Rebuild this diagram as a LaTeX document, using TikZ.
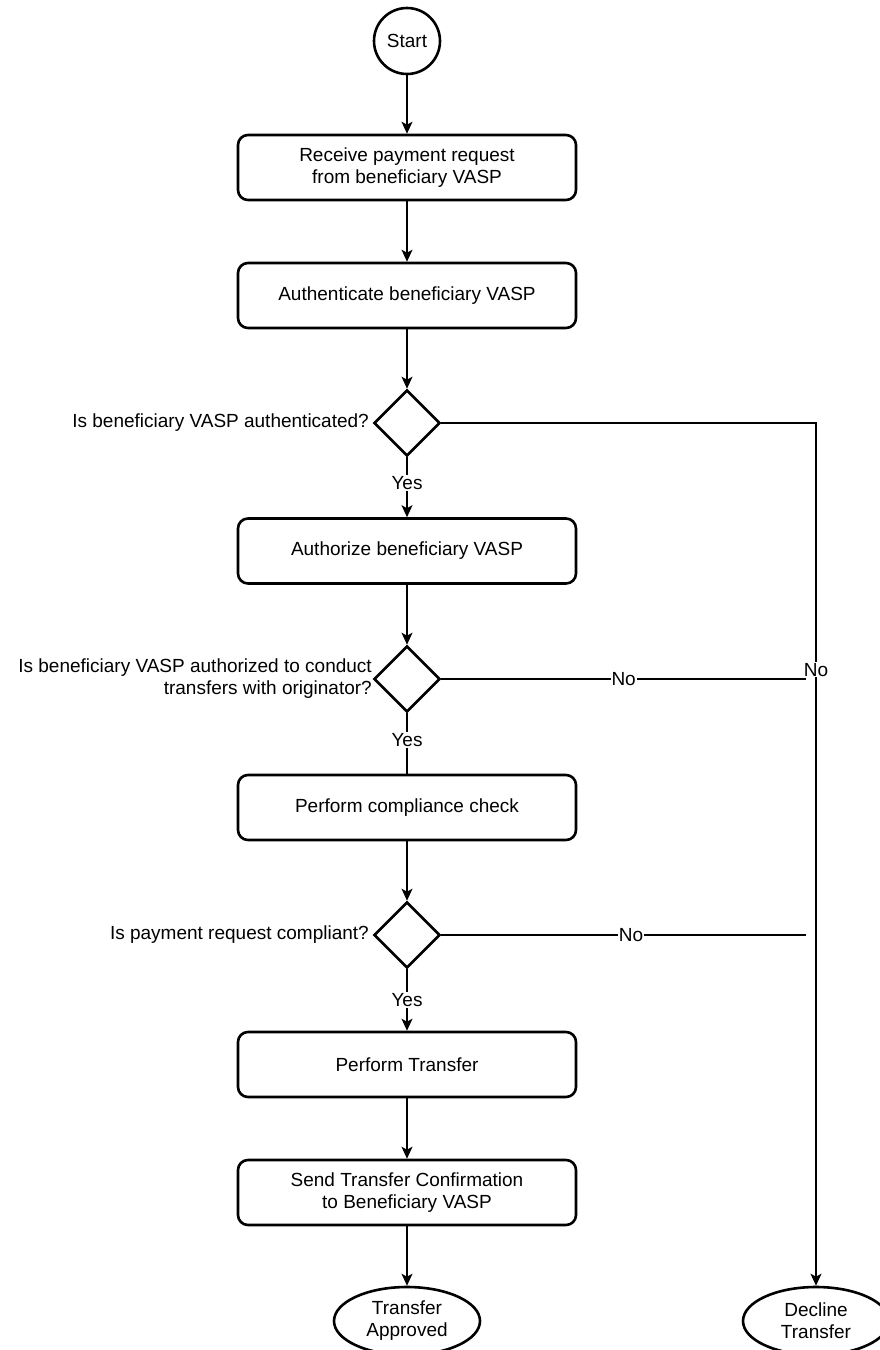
\documentclass[tikz,border=0pt]{standalone}
\usepackage{fontspec}
\setmainfont{Liberation Sans}
\usetikzlibrary{arrows.meta,shapes.geometric}
\tikzset{
	box/.style={draw, line width=2.6pt, rounded corners=10pt, minimum width=338pt, minimum height=65pt, align=center, inner sep=0pt},
	decision/.style={draw, diamond, line width=2.6pt, minimum width=66pt, minimum height=66pt, inner sep=0pt},
	terminal/.style={draw, ellipse, line width=2.6pt, minimum width=146pt, minimum height=68pt, align=center, inner sep=0pt},
	startnode/.style={draw, circle, line width=2.6pt, minimum size=66pt, inner sep=0pt},
	flow/.style={line width=1.3pt, -{Stealth[length=12pt,width=11pt,inset=3pt]}},
	link/.style={line width=1.3pt},
	question/.style={anchor=east, align=right, inner sep=0pt},
	answer/.style={fill=white, inner sep=1pt},
}

\begin{document}
\begin{tikzpicture}[x=1pt, y=-1pt, font=\fontsize{19}{22}\selectfont]
			%%%%% START %%%%%
			
			\useasboundingbox (0, 0) rectangle (879, 1350);
			
			\node[startnode] (start) at (407, 41) {Start};
			\node[box] (receive) at (407, 167.5) {Receive payment request\\from beneficiary VASP};
			\node[box] (authn) at (407, 295.5) {Authenticate beneficiary VASP};
			\node[decision] (isauthn) at (407, 423) {};
			\node[box] (authz) at (407, 551) {Authorize beneficiary VASP};
			\node[decision] (isauthz) at (407, 679) {};
			\node[box] (check) at (407, 807.5) {Perform compliance check};
			\node[decision] (iscompliant) at (407, 935) {};
			\node[box] (transfer) at (407, 1064.5) {Perform Transfer};
			\node[box] (confirm) at (407, 1192.5) {Send Transfer Confirmation\\to Beneficiary VASP};
			\node[terminal] (approved) at (407, 1321) {Transfer\\Approved};
			\node[terminal] (decline) at (816, 1321) {Decline\\Transfer};
			
			\node[question] (qauthn) at (369, 423) {Is beneficiary VASP authenticated?};
			\node[question] (qauthz) at (372, 679) {Is beneficiary VASP authorized to conduct\\transfers with originator?};
			\node[question] (qcompliant) at (369, 935) {Is payment request compliant?};
			
			\coordinate (noauthz) at (806, 679);
			\coordinate (nocompliant) at (806, 935);
			
			% main line
			\draw[flow] (start) -- (receive);
			\draw[flow] (receive) -- (authn);
			\draw[flow] (authn) -- (isauthn);
			\draw[flow] (isauthn) -- node[answer, pos=0.43] {Yes} (authz);
			\draw[flow] (authz) -- (isauthz);
			\draw[link] (isauthz) -- node[answer, pos=0.44] {Yes} (check);
			\draw[flow] (check) -- (iscompliant);
			\draw[flow] (iscompliant) -- node[answer, pos=0.5] {Yes} (transfer);
			\draw[flow] (transfer) -- (confirm);
			\draw[flow] (confirm) -- (approved);
			
			% declined
			\draw[flow] (isauthn.east) -- (isauthn.east -| decline.north) -- node[answer, pos=0.286] {No} (decline.north);
			\draw[link] (isauthz.east) -- node[answer] {No} (noauthz);
			\draw[link] (iscompliant.east) -- node[answer, pos=0.52] {No} (nocompliant);
			
			%%%%% END %%%%%
\end{tikzpicture}
\end{document}
